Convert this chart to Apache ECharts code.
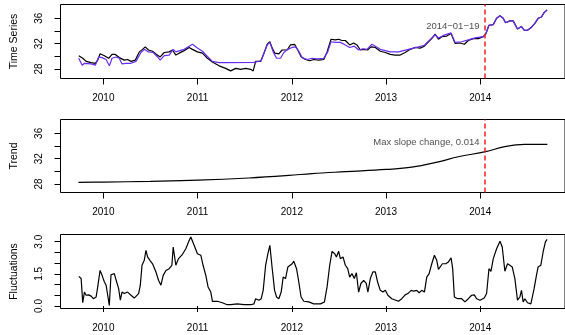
<!DOCTYPE html>
<html>
<head>
<meta charset="utf-8">
<script src="https://cdn.jsdelivr.net/npm/echarts@6/dist/echarts.min.js"></script>
<style>
  html, body { margin: 0; padding: 0; background: #fff; }
  #chart { width: 565px; height: 335px; }
</style>
</head>
<body>
<div id="chart"></div>
<script>
// Observed weekly series (decimal year / value)
const obsYears = [
  2009.739, 2009.781, 2009.817, 2009.870, 2009.915, 2009.940, 2009.965, 2010.011, 2010.056, 2010.092,
  2010.127, 2010.169, 2010.222, 2010.257, 2010.293, 2010.339, 2010.381, 2010.416, 2010.444, 2010.479,
  2010.522, 2010.564, 2010.603, 2010.646, 2010.698, 2010.733, 2010.769, 2010.804, 2010.857, 2010.910,
  2010.945, 2010.998, 2011.051, 2011.104, 2011.157, 2011.228, 2011.298, 2011.351, 2011.404, 2011.457,
  2011.510, 2011.563, 2011.590, 2011.616, 2011.669, 2011.704, 2011.739, 2011.767, 2011.792, 2011.820,
  2011.862, 2011.897, 2011.950, 2011.986, 2012.029, 2012.063, 2012.098, 2012.145, 2012.190, 2012.233,
  2012.286, 2012.339, 2012.374, 2012.416, 2012.462, 2012.497, 2012.532, 2012.568, 2012.614, 2012.656,
  2012.691, 2012.727, 2012.762, 2012.804, 2012.839, 2012.886, 2012.939, 2012.992, 2013.044, 2013.097,
  2013.150, 2013.203, 2013.256, 2013.309, 2013.362, 2013.407, 2013.450, 2013.485, 2013.521, 2013.556,
  2013.591, 2013.643, 2013.690, 2013.732, 2013.785, 2013.831, 2013.873, 2013.926, 2013.979, 2014.032,
  2014.060, 2014.092, 2014.138, 2014.173, 2014.209, 2014.243, 2014.268, 2014.314, 2014.349, 2014.395,
  2014.437, 2014.466, 2014.501, 2014.537, 2014.579, 2014.614, 2014.649, 2014.677, 2014.709
];
const obsValues = [
  30.1, 29.7, 29.2, 29.0, 28.9, 29.4, 30.4, 30.1, 29.7, 30.3,
  30.3, 29.8, 29.4, 29.5, 29.2, 29.4, 30.7, 31.1, 31.5, 31.0,
  30.8, 30.3, 29.9, 30.6, 30.7, 31.0, 30.2, 30.5, 30.9, 31.4,
  31.1, 30.7, 30.5, 29.7, 29.1, 28.5, 28.1, 27.7, 28.1, 27.95,
  28.1, 27.95, 27.7, 29.2, 29.2, 30.5, 31.9, 32.3, 31.3, 30.5,
  30.4, 31.0, 31.0, 31.8, 31.9, 31.0, 29.95, 29.5, 29.3, 29.5,
  29.4, 29.5, 30.7, 32.7, 32.6, 32.7, 32.5, 32.5, 31.8, 32.1,
  31.8, 31.0, 31.1, 31.0, 31.5, 31.4, 30.8, 30.6, 30.3, 30.2,
  30.2, 30.6, 31.1, 31.4, 31.3, 31.6, 32.3, 32.8, 33.5, 32.7,
  33.1, 33.2, 33.6, 32.05, 32.1, 31.9, 32.5, 32.8, 32.8, 33.1,
  33.6, 34.9, 35.0, 36.0, 36.4, 36.0, 35.3, 35.6, 35.6, 34.3,
  34.7, 34.15, 34.1, 34.5, 35.2, 36.0, 36.2, 36.9, 37.3
];

// Fitted series before the change point
const fitYears = [
  2009.739, 2009.775, 2009.799, 2009.870, 2009.915, 2009.950, 2009.986, 2010.029, 2010.063, 2010.092,
  2010.134, 2010.169, 2010.198, 2010.240, 2010.293, 2010.346, 2010.399, 2010.434, 2010.479, 2010.529,
  2010.575, 2010.603, 2010.646, 2010.698, 2010.741, 2010.769, 2010.812, 2010.857, 2010.910, 2010.945,
  2010.998, 2011.051, 2011.104, 2011.157, 2011.228, 2011.298, 2011.598, 2011.633, 2011.675, 2011.711,
  2011.739, 2011.767, 2011.802, 2011.838, 2011.880, 2011.915, 2011.958, 2012.003, 2012.039, 2012.074,
  2012.109, 2012.162, 2012.215, 2012.268, 2012.339, 2012.381, 2012.416, 2012.462, 2012.515, 2012.568,
  2012.614, 2012.663, 2012.709, 2012.755, 2012.797, 2012.850, 2012.886, 2012.939, 2012.992, 2013.044,
  2013.132, 2013.238, 2013.344, 2013.407, 2013.450, 2013.521, 2013.556, 2013.608, 2013.690, 2013.732,
  2013.802, 2013.873, 2013.944, 2014.032
];
const fitValues = [
  29.7, 28.6, 28.9, 28.8, 28.6, 29.9, 29.8, 29.5, 28.5, 29.7,
  29.9, 29.7, 28.8, 28.9, 28.9, 29.2, 30.6, 31.1, 30.7, 30.6,
  29.9, 29.4, 30.1, 30.2, 31.1, 30.7, 30.9, 31.1, 31.6, 31.9,
  31.3, 30.8, 30.0, 29.2, 29.0, 29.0, 29.05, 29.15, 29.3, 30.7,
  31.8, 32.2, 30.7, 29.7, 29.7, 30.6, 31.1, 31.4, 31.5, 30.8,
  29.8, 29.5, 29.7, 29.6, 29.7, 30.7, 32.3, 32.2, 32.2, 31.8,
  31.4, 31.6, 31.0, 31.2, 31.1, 31.9, 31.6, 31.1, 30.9, 30.7,
  30.7, 31.1, 31.5, 31.75, 32.4, 33.4, 32.9, 33.3, 33.7, 32.2,
  32.3, 32.6, 32.9, 33.1
];

// Smooth trend component
const trendYears = [
  2009.735, 2010.000, 2010.500, 2011.002, 2011.545, 2011.968, 2012.215, 2012.568, 2013.002, 2013.273,
  2013.556, 2013.767, 2014.056, 2014.261, 2014.473, 2014.712
];
const trendValues = [
  28.25, 28.3, 28.42, 28.6, 28.95, 29.35, 29.65, 29.95, 30.3, 30.65,
  31.5, 32.3, 33.1, 33.9, 34.25, 34.25
];

// Fluctuation component
const flucYears = [
  2009.739, 2009.764, 2009.781, 2009.799, 2009.817, 2009.844, 2009.870, 2009.894, 2009.923, 2009.940,
  2009.965, 2009.986, 2010.011, 2010.029, 2010.046, 2010.063, 2010.081, 2010.116, 2010.141, 2010.162,
  2010.180, 2010.198, 2010.222, 2010.257, 2010.293, 2010.328, 2010.374, 2010.392, 2010.410, 2010.434,
  2010.452, 2010.469, 2010.494, 2010.522, 2010.558, 2010.585, 2010.611, 2010.635, 2010.664, 2010.698,
  2010.727, 2010.741, 2010.769, 2010.797, 2010.833, 2010.875, 2010.910, 2010.928, 2010.963, 2010.998,
  2011.034, 2011.058, 2011.087, 2011.111, 2011.140, 2011.157, 2011.210, 2011.262, 2011.315, 2011.351,
  2011.421, 2011.492, 2011.563, 2011.598, 2011.616, 2011.651, 2011.675, 2011.696, 2011.722, 2011.746,
  2011.767, 2011.792, 2011.817, 2011.838, 2011.862, 2011.887, 2011.908, 2011.933, 2011.958, 2011.979,
  2012.003, 2012.021, 2012.050, 2012.074, 2012.098, 2012.127, 2012.180, 2012.233, 2012.304, 2012.346,
  2012.374, 2012.402, 2012.427, 2012.455, 2012.473, 2012.497, 2012.515, 2012.543, 2012.568, 2012.593,
  2012.614, 2012.638, 2012.663, 2012.685, 2012.709, 2012.733, 2012.762, 2012.790, 2012.807, 2012.833,
  2012.860, 2012.886, 2012.910, 2012.939, 2012.966, 2012.992, 2013.019, 2013.061, 2013.079, 2013.132,
  2013.167, 2013.203, 2013.231, 2013.267, 2013.291, 2013.326, 2013.351, 2013.379, 2013.407, 2013.432,
  2013.457, 2013.485, 2013.513, 2013.538, 2013.556, 2013.574, 2013.598, 2013.633, 2013.661, 2013.690,
  2013.707, 2013.725, 2013.760, 2013.802, 2013.838, 2013.873, 2013.908, 2013.937, 2013.961, 2013.997,
  2014.042, 2014.067, 2014.092, 2014.113, 2014.138, 2014.173, 2014.209, 2014.233, 2014.261, 2014.289,
  2014.314, 2014.339, 2014.367, 2014.395, 2014.420, 2014.437, 2014.455, 2014.473, 2014.501, 2014.537,
  2014.571, 2014.596, 2014.614, 2014.642, 2014.667, 2014.691, 2014.709
];
const flucValues = [
  1.38, 1.28, 0.15, 0.65, 0.50, 0.52, 0.46, 0.34, 0.42, 0.89,
  1.66, 1.43, 1.12, 0.97, 0.50, 0.03, 1.46, 1.51, 1.12, 0.81,
  0.27, 0.65, 0.58, 0.65, 0.50, 0.37, 0.58, 0.97, 1.90, 2.13,
  2.60, 2.29, 2.13, 1.97, 1.59, 1.20, 0.97, 1.43, 1.66, 1.74,
  1.90, 2.75, 1.90, 2.21, 2.37, 2.67, 3.06, 3.22, 2.83, 2.44,
  2.37, 1.90, 1.43, 0.89, 0.65, 0.22, 0.22, 0.15, 0.06, 0.06,
  0.10, 0.06, 0.06, 0.10, 0.34, 0.27, 0.34, 0.73, 1.90, 2.44,
  2.83, 1.74, 0.73, 0.42, 0.34, 0.65, 1.35, 1.28, 1.82, 1.74,
  1.97, 2.09, 1.74, 1.12, 0.42, 0.22, 0.19, 0.10, 0.10, 0.19,
  0.89, 1.90, 2.55, 2.44, 2.29, 2.55, 2.21, 2.29, 1.90, 1.74,
  1.35, 1.51, 1.28, 1.55, 0.65, 1.05, 1.20, 1.05, 0.65, 1.28,
  1.59, 1.59, 1.12, 0.73, 0.65, 0.73, 0.50, 0.34, 0.27, 0.22,
  0.34, 0.52, 0.58, 0.73, 0.69, 0.73, 0.62, 0.73, 0.65, 1.35,
  1.51, 1.97, 2.37, 2.13, 1.71, 1.66, 1.97, 1.97, 2.05, 2.25,
  1.74, 0.42, 0.34, 0.34, 0.19, 0.34, 0.50, 0.52, 0.34, 0.27,
  0.37, 0.58, 1.74, 1.62, 2.21, 2.67, 3.02, 2.75, 1.62, 1.97,
  1.90, 1.82, 1.28, 0.27, 0.42, 0.73, 0.19, 0.34, 0.15, 0.10,
  0.81, 1.43, 1.82, 1.90, 2.52, 2.99, 3.11
];

// Axis ticks and labels
const yearTicks = [2010, 2011, 2012, 2013, 2014];
const levelTicks = [28, 30, 32, 34, 36];
const levelLabels = [28, 32, 36];
const flucTicks = [0, 0.5, 1, 1.5, 2, 2.5, 3];
const flucLabels = [0, 1.5, 3];

// Change point: 2014-01-19
const changeYear = 2014.05;
const changeLabel = '2014\u221201\u221219';
const slopeLabel = 'Max slope change, 0.014';

const FONT = 'Liberation Sans, Arial, Helvetica, sans-serif';
const pairs = (xs, ys) => xs.map((x, i) => [x, ys[i]]);

const obsData = pairs(obsYears, obsValues);
const lastFit = fitYears[fitYears.length - 1];
// after the change point the fitted line follows the observed values
const fitData = pairs(fitYears, fitValues).concat(obsData.filter(p => p[0] > lastFit));

const grids = [
  { left: 60.5, right: -2.5, top: 4.5, height: 74 },
  { left: 60.5, right: -2.5, top: 119.5, height: 73 },
  { left: 60.5, right: -2.5, top: 234.5, height: 74 }
].map(g => Object.assign(g, { show: true, borderColor: '#000', borderWidth: 1, containLabel: false }));

const xAxisFor = (gi) => ({
  type: 'value', gridIndex: gi, min: 2009.545, max: 2014.899,
  axisLine: { show: false },
  axisTick: { show: true, customValues: yearTicks, length: 6, lineStyle: { color: '#000', width: 1 } },
  axisLabel: { show: true, customValues: yearTicks, margin: 15, color: '#000', fontSize: 10, fontFamily: FONT,
               formatter: v => String(Math.round(v)) },
  splitLine: { show: false }
});

const yAxisFor = (gi, name, min, max, ticks, labels, fmt) => ({
  type: 'value', gridIndex: gi, min: min, max: max,
  name: name, nameLocation: 'middle', nameRotate: 90, nameGap: 41,
  nameTextStyle: { color: '#000', fontSize: 10.5, fontFamily: FONT },
  axisLine: { show: false },
  axisTick: { show: true, customValues: ticks, length: 6, lineStyle: { color: '#000', width: 1 } },
  axisLabel: { show: true, customValues: labels, rotate: 90, margin: 16, color: '#000', fontSize: 10,
               fontFamily: FONT, formatter: fmt },
  splitLine: { show: false }
});

const changeLine = (gi) => ({
  silent: true, symbol: ['none', 'none'], animation: false,
  label: { show: false },
  lineStyle: { color: '#f21f1f', type: [5, 3], width: 1.5 },
  data: [{ xAxis: changeYear }]
});

const noteSeries = (gi, y, text) => ({
  type: 'scatter', xAxisIndex: gi, yAxisIndex: gi, symbolSize: 1,
  itemStyle: { color: 'rgba(0,0,0,0)' }, silent: true,
  data: [[changeYear, y]],
  label: { show: true, position: 'left', distance: 5, formatter: text,
           color: '#222', fontSize: 9.5, fontFamily: FONT }
});

const option = {
  animation: false,
  backgroundColor: '#fff',
  grid: grids,
  xAxis: [xAxisFor(0), xAxisFor(1), xAxisFor(2)],
  yAxis: [
    yAxisFor(0, 'Time Series', 26.5, 38.18, levelTicks, levelLabels, v => String(Math.round(v))),
    yAxisFor(1, 'Trend', 26.66, 38.18, levelTicks, levelLabels, v => String(Math.round(v))),
    yAxisFor(2, 'Fluctuations', -0.117, 3.336, flucTicks, flucLabels, v => v.toFixed(1))
  ],
  series: [
    { type: 'line', xAxisIndex: 0, yAxisIndex: 0, data: obsData, showSymbol: false,
      lineStyle: { color: '#000', width: 1.2 }, markLine: changeLine(0) },
    { type: 'line', xAxisIndex: 0, yAxisIndex: 0, data: fitData, showSymbol: false,
      lineStyle: { color: '#6a2cf2', width: 1.2 } },
    noteSeries(0, 34.7, changeLabel),
    { type: 'line', xAxisIndex: 1, yAxisIndex: 1, data: pairs(trendYears, trendValues), showSymbol: false,
      smooth: 0.4, lineStyle: { color: '#000', width: 1.2 }, markLine: changeLine(1) },
    noteSeries(1, 34.62, slopeLabel),
    { type: 'line', xAxisIndex: 2, yAxisIndex: 2, data: pairs(flucYears, flucValues), showSymbol: false,
      lineStyle: { color: '#000', width: 1.2 } }
  ]
};

const chart = echarts.init(document.getElementById('chart'), null, { renderer: 'canvas' });
chart.setOption(option);
</script>
</body>
</html>
